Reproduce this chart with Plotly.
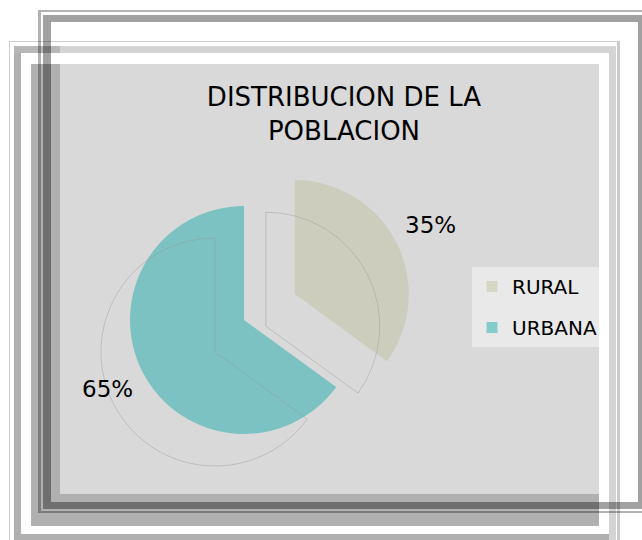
import math
import plotly.graph_objects as go

W, H = 642, 540

# ---- data ----
labels = ["RURAL", "URBANA"]
values = [35, 65]
pulls = [0.5, 0]
slice_colors = ["#cdcdbd", "#7cc2c2"]
legend_colors = ["#d6d6c4", "#84cccc"]
title_text = "DISTRIBUCION DE LA<br>POBLACION"


def px(x):
    return x / W


def py(y):
    return 1 - y / H


def rect(x0, y0, x1, y1, color):
    return dict(type="rect", xref="paper", yref="paper",
                x0=px(x0), x1=px(x1), y0=py(y1), y1=py(y0),
                fillcolor=color, line=dict(width=0), layer="below")


shapes = []
# light frame (group 2)
g2line = "#cccccc"
shapes += [rect(9, 41, 620, 42, g2line), rect(9, 42, 10, 540, g2line),
           rect(617, 42, 620, 540, g2line)]
shapes += [rect(14, 46, 60, 53, "#b8b8b8"), rect(60, 46, 616, 53, "#d4d4d4"),
           rect(609, 53, 616, 540, "#d4d4d4"), rect(14, 53, 21, 540, "#b0b0b0"),
           rect(21, 534, 609, 540, "#b0b0b0")]
# shadow of chart area
shapes += [rect(31, 64, 599, 526, "#b0b0b0")]
# chart area
shapes += [rect(60, 64, 599, 494, "#d9d9d9")]
# dark translucent frame (group 1)
g1 = "rgba(0,0,0,0.37)"
g1t = "rgba(0,0,0,0.30)"
shapes += [rect(41, 10, 642, 12, g1t), rect(38, 10, 41, 513, g1t),
           rect(41, 511, 642, 513, g1t)]
shapes += [rect(43, 15, 642, 22, g1), rect(43, 22, 51, 502, g1),
           rect(638, 22, 642, 502, g1), rect(43, 502, 642, 509, g1)]

# pie geometry: centre (244,320), pull 0.5 -> radius = half / 1.5
cx, cy, half = 244, 320, 171
radius = half / (1 + max(pulls))
dom_main = dict(x=[px(cx - half), px(cx + half)], y=[py(cy + half), py(cy - half)])
gx, gy = cx - 29, cy + 32
dom_ghost = dict(x=[px(gx - half), px(gx + half)], y=[py(gy + half), py(gy - half)])

fig = go.Figure()
fig.add_trace(go.Pie(
    labels=labels, values=values, sort=False, direction="clockwise", rotation=0,
    pull=pulls, domain=dom_main, showlegend=False,
    marker=dict(colors=slice_colors, line=dict(width=0)),
    textinfo="none", hoverinfo="label+percent",
))
fig.add_trace(go.Pie(
    labels=labels, values=values, sort=False, direction="clockwise", rotation=0,
    pull=pulls, domain=dom_ghost, showlegend=False,
    marker=dict(colors=["rgba(0,0,0,0)", "rgba(0,0,0,0)"],
                line=dict(width=0.7, color="rgba(150,150,150,0.6)")),
    textinfo="none", hoverinfo="skip",
))
# legend entries
for lab, col in zip(labels, legend_colors):
    fig.add_trace(go.Scatter(
        x=[None], y=[None], mode="markers", name=lab, legendgroup=lab,
        marker=dict(symbol="square", size=11, color=col), showlegend=True,
    ))

# percentage labels placed outside each slice along its mid-angle
total = sum(values)
annotations = []
cum = 0
for v, p in zip(values, pulls):
    mid = 2 * math.pi * (cum + v / 2) / total
    cum += v
    sx = cx + p * radius * math.sin(mid)
    sy = cy - p * radius * math.cos(mid)
    lx = sx + 1.34 * radius * math.sin(mid)
    ly = sy - 1.34 * radius * math.cos(mid)
    annotations.append(dict(
        x=px(lx), y=py(ly), xref="paper", yref="paper", showarrow=False,
        text=f"{round(100 * v / total)}%", xanchor="center", yanchor="middle",
        font=dict(family="DejaVu Sans", size=23, color="#000000")))

fig.update_layout(
    width=W, height=H,
    margin=dict(l=0, r=0, t=0, b=0, pad=0, autoexpand=False),
    paper_bgcolor="#ffffff", plot_bgcolor="rgba(0,0,0,0)",
    xaxis=dict(visible=False, automargin=False), yaxis=dict(visible=False, automargin=False),
    shapes=shapes, annotations=annotations,
    title=dict(text=title_text, x=px(344), xanchor="center", y=py(106), yanchor="middle",
               xref="paper", yref="paper",
               font=dict(family="DejaVu Sans", size=26, color="#000000")),
    legend=dict(x=px(472), y=py(267), xanchor="left", yanchor="top",
                bgcolor="rgba(255,255,255,0.42)", borderwidth=0,
                font=dict(family="DejaVu Sans", size=20, color="#000000"),
                tracegroupgap=12, traceorder="grouped"),
    showlegend=True,
)

fig.write_html("out.html", config={"displayModeBar": False},
               post_script="document.body.style.margin='0';")
